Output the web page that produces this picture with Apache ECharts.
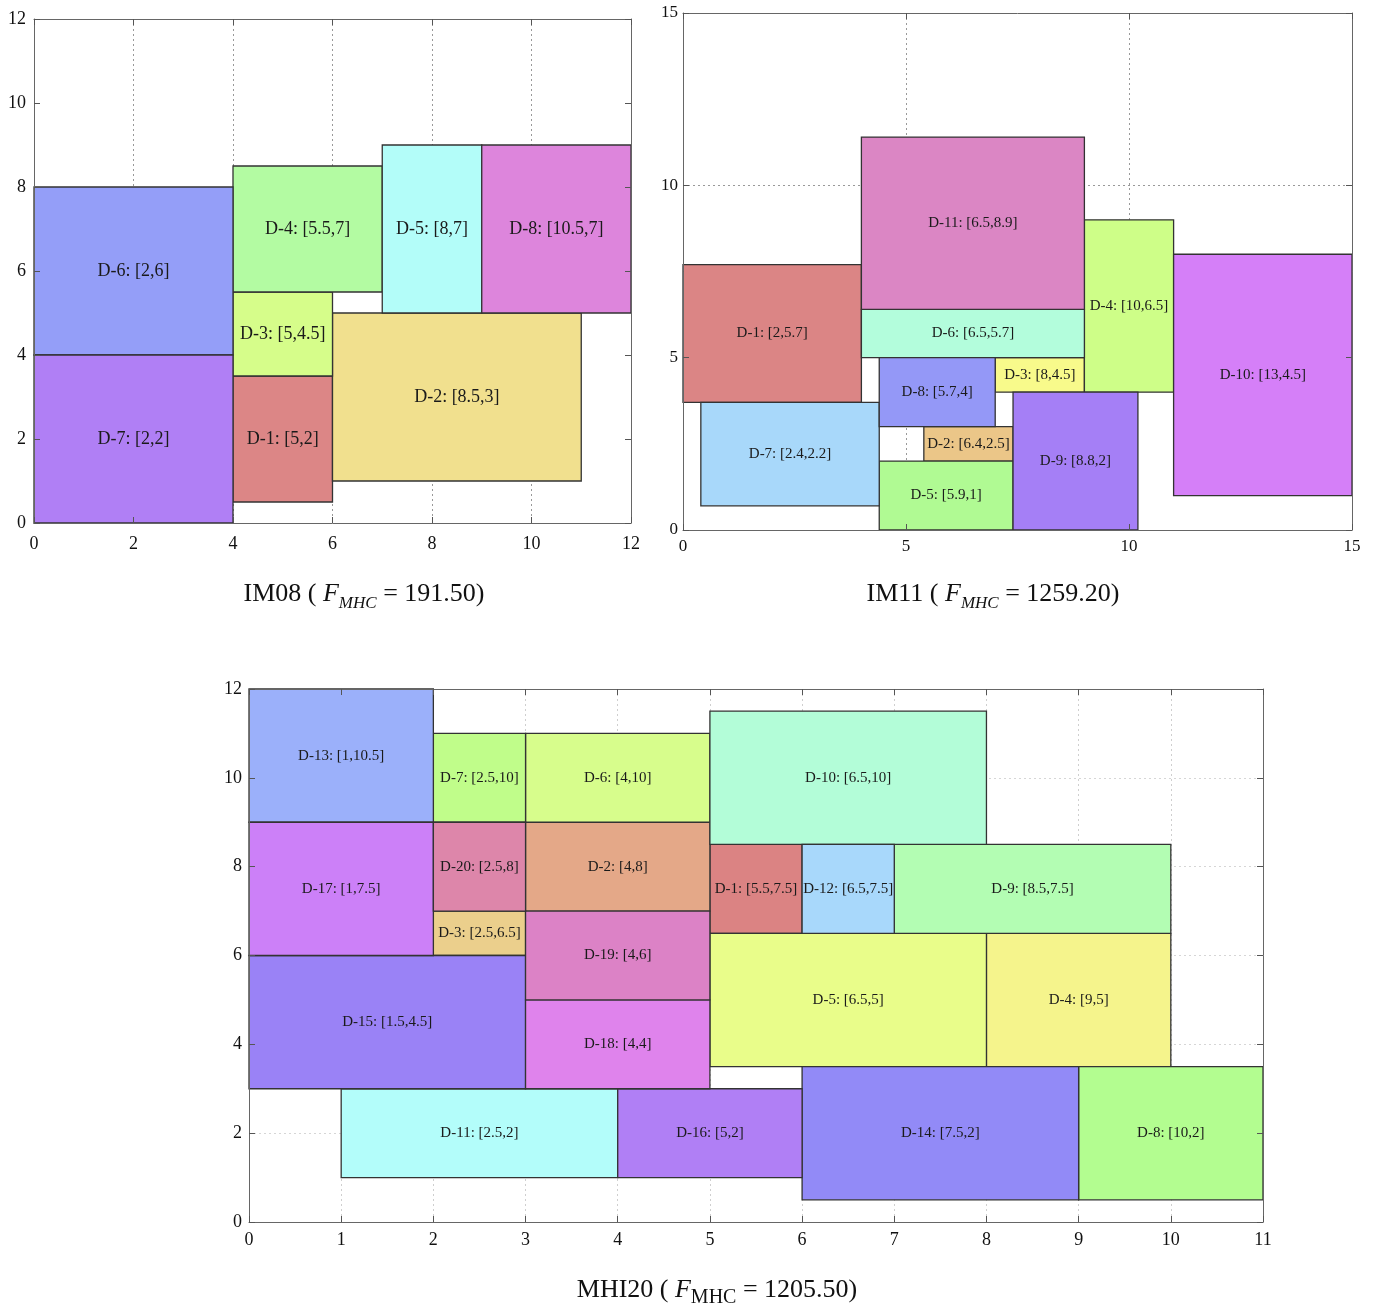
<!DOCTYPE html>
<html>
<head>
<meta charset="utf-8">
<script src="https://cdn.jsdelivr.net/npm/echarts@6/dist/echarts.min.js"></script>
<style>
  html, body { margin: 0; padding: 0; background: #fff; }
  #chart { width: 1379px; height: 1309px; }
</style>
</head>
<body>
<div id="chart"></div>
<script>
// ---- IM08: block centres [cx, cy], widths and heights ----
const im08Names = ['D-1', 'D-2', 'D-3', 'D-4', 'D-5', 'D-6', 'D-7', 'D-8'];
const im08Cx = [5, 8.5, 5, 5.5, 8, 2, 2, 10.5];
const im08Cy = [2, 3, 4.5, 7, 7, 6, 2, 7];
const im08W = [2, 5, 2, 3, 2, 4, 4, 3];
const im08H = [3, 4, 2, 3, 4, 4, 4, 4];
const im08Colors = ['#dc8686', '#f1e08e', '#d6fd8a', '#b3fba2', '#b3fdf9', '#949ef8', '#b07ff5', '#dd85dc'];
const im08Range = [0, 12];
const im08Step = 2;
const im08Score = '191.50';

// ---- IM11 ----
const im11Names = ['D-1', 'D-2', 'D-3', 'D-4', 'D-5', 'D-6', 'D-7', 'D-8', 'D-9', 'D-10', 'D-11'];
const im11Cx = [2, 6.4, 8, 10, 5.9, 6.5, 2.4, 5.7, 8.8, 13, 6.5];
const im11Cy = [5.7, 2.5, 4.5, 6.5, 1, 5.7, 2.2, 4, 2, 4.5, 8.9];
const im11W = [4, 2, 2, 2, 3, 5, 4, 2.6, 2.8, 4, 5];
const im11H = [4, 1, 1, 5, 2, 1.4, 3, 2, 4, 7, 5];
const im11Colors = ['#db8585', '#ebc688', '#f8fa8b', '#cefe88', '#b0fa93', '#b3fddc', '#a8d8fa', '#9498f7', '#a57ff6', '#d57ff8', '#db86c4'];
const im11Range = [0, 15];
const im11Step = 5;
const im11Score = '1259.20';

// ---- MHI20 ----
const mhiNames = ['D-1', 'D-2', 'D-3', 'D-4', 'D-5', 'D-6', 'D-7', 'D-8', 'D-9', 'D-10',
                  'D-11', 'D-12', 'D-13', 'D-14', 'D-15', 'D-16', 'D-17', 'D-18', 'D-19', 'D-20'];
const mhiCx = [5.5, 4, 2.5, 9, 6.5, 4, 2.5, 10, 8.5, 6.5, 2.5, 6.5, 1, 7.5, 1.5, 5, 1, 4, 4, 2.5];
const mhiCy = [7.5, 8, 6.5, 5, 5, 10, 10, 2, 7.5, 10, 2, 7.5, 10.5, 2, 4.5, 2, 7.5, 4, 6, 8];
const mhiW = [1, 2, 1, 2, 3, 2, 1, 2, 3, 3, 3, 1, 2, 3, 3, 2, 2, 2, 2, 1];
const mhiH = [2, 2, 1, 3, 3, 2, 2, 3, 2, 3, 2, 2, 3, 3, 3, 2, 3, 2, 2, 2];
const mhiColors = ['#db8383', '#e4a888', '#ebcf8c', '#f5f48c', '#e9fd8a', '#d7fd8c', '#c0fd8a', '#b3fd90', '#b3fdb3', '#b3fdd8',
                   '#b3fdfa', '#a8d8fb', '#9bb0fa', '#928af7', '#9a82f6', '#b07ff5', '#cc80f8', '#df83ec', '#dc82c6', '#dd86aa'];
const mhiXRange = [0, 11];
const mhiYRange = [0, 12];
const mhiXStep = 1;
const mhiYStep = 2;
const mhiScore = '1205.50';

const SERIF = '"Liberation Serif", "Times New Roman", serif';

// Axes for one panel: labelled bottom/left axis and mirrored top/right axis drawn
// above the blocks (ticks point inward), plus a low axis carrying the dotted grid.
function panelAxes(gridIndex, dim, range, step, fontSize, margin, gridColor) {
  const base = { gridIndex, type: 'value', min: range[0], max: range[1], interval: step };
  const line = { show: true, onZero: false, lineStyle: { color: '#666', width: 1 } };
  const tick = { show: true, inside: true, length: 6, lineStyle: { color: '#555', width: 1 } };
  const main = Object.assign({}, base, {
    position: dim === 'x' ? 'bottom' : 'left', z: 5,
    axisLine: line, axisTick: tick,
    axisLabel: { show: true, margin, fontFamily: SERIF, fontSize, color: '#111' },
    splitLine: { show: false }
  });
  const mirror = Object.assign({}, base, {
    position: dim === 'x' ? 'top' : 'right', z: 5,
    axisLine: line, axisTick: tick,
    axisLabel: { show: false }, splitLine: { show: false }
  });
  const gridAxis = Object.assign({}, base, {
    position: dim === 'x' ? 'bottom' : 'left', z: 0,
    axisLine: { show: false }, axisTick: { show: false }, axisLabel: { show: false },
    splitLine: gridColor
      ? { show: true, lineStyle: { color: gridColor, type: [2, 3], width: 1 } }
      : { show: false }
  });
  return [main, mirror, gridAxis];
}

function blockSeries(axisIndex, names, cx, cy, w, h, colors, labelSize) {
  return {
    type: 'custom',
    xAxisIndex: axisIndex,
    yAxisIndex: axisIndex,
    z: 2,
    data: cx.map((x, i) => ({ value: [x, cy[i], w[i], h[i]], itemStyle: { color: colors[i] } })),
    renderItem: function (params, api) {
      const i = params.dataIndex;
      const x = api.value(0), y = api.value(1), bw = api.value(2), bh = api.value(3);
      const topLeft = api.coord([x - bw / 2, y + bh / 2]);
      const size = api.size([bw, bh]);
      const mid = api.coord([x, y]);
      return {
        type: 'group',
        children: [
          {
            type: 'rect',
            shape: { x: topLeft[0], y: topLeft[1], width: size[0], height: size[1] },
            style: { fill: api.visual('color'), stroke: '#333', lineWidth: 1.3 }
          },
          {
            type: 'text',
            x: mid[0], y: mid[1],
            style: {
              text: names[i] + ': [' + cx[i] + ',' + cy[i] + ']',
              fill: '#1a1a1a',
              font: labelSize + 'px ' + SERIF,
              align: 'center',
              verticalAlign: 'middle'
            }
          }
        ]
      };
    }
  };
}

function caption(x, y, name, score, italicSub, subSize) {
  return {
    type: 'text',
    x: x, y: y,
    z: 10,
    style: {
      text: '{a|' + name + ' ( }{f|F}{s|MHC}{a| = ' + score + ')}',
      align: 'center',
      verticalAlign: 'middle',
      rich: {
        a: { fontFamily: SERIF, fontSize: 26, lineHeight: 36, fill: '#111', color: '#111' },
        f: { fontFamily: SERIF, fontSize: 26, fontStyle: 'italic', lineHeight: 36, fill: '#111', color: '#111' },
        s: { fontFamily: SERIF, fontSize: subSize, fontStyle: italicSub ? 'italic' : 'normal',
             padding: [16, 0, 0, 0], verticalAlign: 'bottom', fill: '#111', color: '#111' }
      }
    }
  };
}

const chart = echarts.init(document.getElementById('chart'), null, { renderer: 'canvas' });

const xAxes = [].concat(
  panelAxes(0, 'x', im08Range, im08Step, 18, 12, '#999'),
  panelAxes(1, 'x', im11Range, im11Step, 17, 8, '#999'),
  panelAxes(2, 'x', mhiXRange, mhiXStep, 18, 9, '#cfcfcf')
);
const yAxes = [].concat(
  panelAxes(0, 'y', im08Range, im08Step, 18, 8, null),
  panelAxes(1, 'y', im11Range, im11Step, 17, 5, '#999'),
  panelAxes(2, 'y', mhiYRange, mhiYStep, 18, 7, '#d6d6d6')
);

chart.setOption({
  animation: false,
  backgroundColor: '#fff',
  grid: [
    { left: 34, top: 19, width: 597, height: 504 },
    { left: 683, top: 13, width: 669, height: 517 },
    { left: 249, top: 689, width: 1014, height: 533 }
  ],
  xAxis: xAxes,
  yAxis: yAxes,
  series: [
    blockSeries(0, im08Names, im08Cx, im08Cy, im08W, im08H, im08Colors, 18),
    blockSeries(3, im11Names, im11Cx, im11Cy, im11W, im11H, im11Colors, 15),
    blockSeries(6, mhiNames, mhiCx, mhiCy, mhiW, mhiH, mhiColors, 15)
  ],
  graphic: [
    caption(364, 594, 'IM08', im08Score, true, 17),
    caption(993, 594, 'IM11', im11Score, true, 17),
    caption(717, 1290, 'MHI20', mhiScore, false, 20)
  ]
});
</script>
</body>
</html>
